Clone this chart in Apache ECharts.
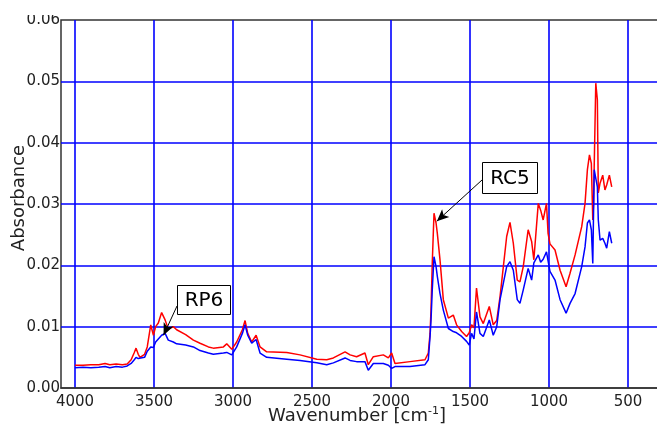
<!DOCTYPE html>
<html>
<head>
<meta charset="utf-8">
<script src="https://cdn.jsdelivr.net/npm/echarts@6/dist/echarts.min.js"></script>
<style>
  html, body { margin: 0; padding: 0; background: #fff; }
  #main { width: 657px; height: 428px; }
</style>
</head>
<body>
<div id="main"></div>
<script>
// wavenumbers (cm-1)
var wavenumbers = [
  4000, 3950, 3900, 3850, 3810, 3780, 3740, 3700, 3670, 3645, 3625, 3614, 3600, 3589, 3560, 3543,
  3521, 3504, 3490, 3473, 3452, 3430, 3410, 3378, 3357, 3300, 3251, 3209, 3156, 3125, 3061, 3040,
  3008, 2977, 2941, 2924, 2907, 2882, 2854, 2829, 2787, 2660, 2576, 2470, 2407, 2365, 2291, 2259,
  2218, 2165, 2144, 2112, 2049, 2017, 1996, 1975, 1880, 1785, 1764, 1753, 1747, 1739, 1728, 1715,
  1707, 1690, 1669, 1637, 1606, 1585, 1553, 1522, 1505, 1490, 1475, 1459, 1437, 1416, 1378, 1353,
  1331, 1310, 1289, 1268, 1247, 1226, 1201, 1184, 1163, 1132, 1110, 1096, 1068, 1053, 1037, 1016,
  1006, 994, 962, 930, 892, 867, 835, 793, 772, 757, 744, 732, 723, 718, 714, 704,
  694, 688, 677, 660, 646, 635, 618, 603
];
// red trace (RC5)
var redAbs = [
  0.0037, 0.0037, 0.0038, 0.0038, 0.0040, 0.0038, 0.0039, 0.0038, 0.0039, 0.0046, 0.0058, 0.0065, 0.0055, 0.0050, 0.0055, 0.0067,
  0.0103, 0.0086, 0.0100, 0.0106, 0.0123, 0.0111, 0.0096, 0.0100, 0.0095, 0.0087, 0.0078, 0.0073, 0.0067, 0.0065, 0.0067, 0.0072,
  0.0063, 0.0075, 0.0095, 0.0110, 0.0089, 0.0075, 0.0086, 0.0067, 0.0059, 0.0058, 0.0054, 0.0047, 0.0046, 0.0049, 0.0059, 0.0054,
  0.0051, 0.0057, 0.0038, 0.0051, 0.0054, 0.0049, 0.0057, 0.0040, 0.0043, 0.0046, 0.0057, 0.0089, 0.0127, 0.0203, 0.0285, 0.0269,
  0.0252, 0.0209, 0.0144, 0.0114, 0.0119, 0.0103, 0.0092, 0.0084, 0.0090, 0.0103, 0.0098, 0.0163, 0.0116, 0.0105, 0.0133, 0.0103,
  0.0110, 0.0149, 0.0198, 0.0247, 0.0270, 0.0236, 0.0176, 0.0173, 0.0198, 0.0258, 0.0239, 0.0209, 0.0301, 0.0290, 0.0274, 0.0301,
  0.0252, 0.0235, 0.0225, 0.0192, 0.0165, 0.0187, 0.0217, 0.0263, 0.0301, 0.0356, 0.0380, 0.0366, 0.0274, 0.0300, 0.0360, 0.0497,
  0.0470, 0.0318, 0.0334, 0.0347, 0.0323, 0.0331, 0.0347, 0.0328
];
// blue trace (RP6)
var blueAbs = [
  0.0033, 0.0034, 0.0033, 0.0034, 0.0035, 0.0033, 0.0035, 0.0034, 0.0036, 0.0040, 0.0046, 0.0050, 0.0048, 0.0046, 0.0050, 0.0060,
  0.0067, 0.0066, 0.0075, 0.0080, 0.0086, 0.0089, 0.0078, 0.0075, 0.0072, 0.0070, 0.0067, 0.0061, 0.0057, 0.0055, 0.0057, 0.0058,
  0.0054, 0.0067, 0.0089, 0.0103, 0.0086, 0.0073, 0.0079, 0.0057, 0.0050, 0.0047, 0.0045, 0.0041, 0.0038, 0.0041, 0.0049, 0.0045,
  0.0043, 0.0043, 0.0029, 0.0040, 0.0040, 0.0037, 0.0032, 0.0035, 0.0035, 0.0038, 0.0046, 0.0084, 0.0110, 0.0160, 0.0214, 0.0198,
  0.0182, 0.0154, 0.0127, 0.0097, 0.0092, 0.0090, 0.0084, 0.0076, 0.0070, 0.0089, 0.0080, 0.0124, 0.0089, 0.0084, 0.0111, 0.0086,
  0.0100, 0.0144, 0.0171, 0.0198, 0.0206, 0.0192, 0.0144, 0.0138, 0.0160, 0.0195, 0.0176, 0.0204, 0.0217, 0.0205, 0.0210, 0.0222,
  0.0225, 0.0190, 0.0176, 0.0144, 0.0122, 0.0138, 0.0154, 0.0198, 0.0230, 0.0269, 0.0274, 0.0258, 0.0203, 0.0201, 0.0356, 0.0356,
  0.0328, 0.0274, 0.0241, 0.0244, 0.0236, 0.0228, 0.0255, 0.0236
];

var xTicks = [4000, 3500, 3000, 2500, 2000, 1500, 1000, 500];

// annotation targets (data coords)
var rc5Target = [1710, 0.0272];
var rp6Target = [3440, 0.0086];

function pairs(ys) {
  return wavenumbers.map(function (w, i) { return [w, ys[i]]; });
}

var chart = echarts.init(document.getElementById('main'), null, { renderer: 'canvas' });

var font = 'DejaVu Sans';

var option = {
  animation: false,
  backgroundColor: '#fff',
  grid: {
    left: 61,
    top: 20,
    width: 646,
    height: 368,
    outerBoundsMode: 'none',
    containLabel: false,
    show: true,
    borderColor: '#333',
    borderWidth: 1.5,
    backgroundColor: 'transparent'
  },
  xAxis: {
    type: 'value',
    inverse: true,
    min: 0,
    max: 4089,
    interval: 500,
    axisLine: { show: true, onZero: false, lineStyle: { color: '#333', width: 1.5 } },
    axisTick: { show: false },
    axisLabel: {
      margin: 7,
      color: '#222',
      fontFamily: font,
      fontSize: 15,
      formatter: function (v) { return xTicks.indexOf(v) >= 0 ? String(v) : ''; }
    },
    splitLine: { show: true, showMinLine: false, showMaxLine: false, lineStyle: { color: '#0000ff', width: 1.6 } }
  },
  yAxis: {
    type: 'value',
    min: 0,
    max: 0.06,
    interval: 0.01,
    axisLine: { show: true, lineStyle: { color: '#333', width: 2 } },
    axisTick: { show: true, length: 3, lineStyle: { color: '#333' } },
    axisLabel: {
      margin: 1,
      color: '#222',
      fontFamily: font,
      fontSize: 15,
      formatter: function (v) { return v.toFixed(2); }
    },
    splitLine: { show: true, showMinLine: false, showMaxLine: false, lineStyle: { color: '#0000ff', width: 1.6 } }
  },
  series: [
    {
      name: 'RC5',
      type: 'line',
      data: pairs(redAbs),
      showSymbol: false,
      lineStyle: { color: '#ff0000', width: 1.5 },
      itemStyle: { color: '#ff0000' },
      z: 3,
      markLine: {
        silent: true,
        animation: false,
        label: { show: false },
        lineStyle: { color: '#000', width: 1, type: 'solid' },
        data: [
          [{ coord: rc5Target, symbol: 'arrow', symbolSize: [8, 12] }, { x: 482, y: 180, symbol: 'none' }],
          [{ coord: rp6Target, symbol: 'arrow', symbolSize: [8, 12] }, { x: 177, y: 306, symbol: 'none' }]
        ]
      }
    },
    {
      name: 'RP6',
      type: 'line',
      data: pairs(blueAbs),
      showSymbol: false,
      lineStyle: { color: '#0000ff', width: 1.5 },
      itemStyle: { color: '#0000ff' },
      z: 4
    }
  ],
  graphic: [
    // clip the top of the first y label like the original
    { type: 'rect', left: 0, top: 0, shape: { width: 60, height: 15 }, style: { fill: '#fff' }, z: 100 },
    {
      type: 'group', left: 482, top: 162, z: 110,
      children: [
        { type: 'rect', shape: { x: 0, y: 0, width: 55, height: 31 }, style: { fill: '#fff', stroke: '#000', lineWidth: 1 } },
        { type: 'text', x: 27.5, y: 16, style: { text: 'RC5', font: '20px ' + font, fill: '#000', align: 'center', verticalAlign: 'middle' } }
      ]
    },
    {
      type: 'group', left: 177, top: 285, z: 110,
      children: [
        { type: 'rect', shape: { x: 0, y: 0, width: 53, height: 29 }, style: { fill: '#fff', stroke: '#000', lineWidth: 1 } },
        { type: 'text', x: 26.5, y: 15, style: { text: 'RP6', font: '20px ' + font, fill: '#000', align: 'center', verticalAlign: 'middle' } }
      ]
    },
    {
      type: 'text', z: 100,
      x: 357, y: 416,
      style: {
        text: 'Wavenumber [cm{sup|-1}]',
        font: '18px ' + font,
        fill: '#222',
        align: 'center',
        verticalAlign: 'middle',
        rich: { sup: { fontSize: 11, fontFamily: font, fill: '#222', padding: [0, 0, 9, 0] } }
      }
    },
    {
      type: 'text', z: 100,
      x: 19, y: 198,
      rotation: Math.PI / 2,
      style: { text: 'Absorbance', font: '18px ' + font, fill: '#222', align: 'center', verticalAlign: 'middle' }
    }
  ]
};

chart.setOption(option);
</script>
</body>
</html>
